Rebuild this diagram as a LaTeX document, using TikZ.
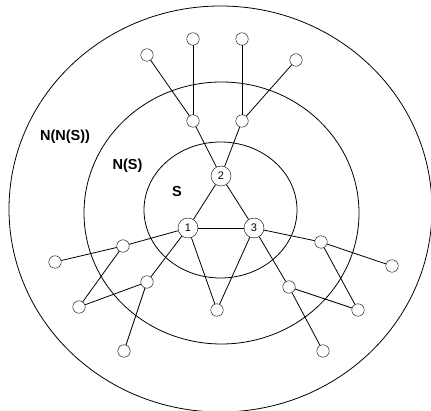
\documentclass[tikz,border=0pt]{standalone}
\usepackage{fontspec}
\setmainfont{Liberation Sans}
\usepackage{tikz}
\usetikzlibrary{positioning}
\tikzstyle{seed} = [circle, draw, fill=white, minimum size=20pt, inner sep=0pt, font=\fontsize{11}{11}\selectfont]
\tikzstyle{vertex} = [circle, draw, fill=white, minimum size=12.5pt, inner sep=0pt]
\tikzstyle{edge} = [line width=0.8pt]
\tikzstyle{region} = [line width=0.8pt]
\tikzstyle{setlabel} = [font=\fontsize{14.5}{14.5}\selectfont\bfseries]

\begin{document}
\begin{tikzpicture}[x=1pt, y=-1pt]
    \useasboundingbox (0,0) rectangle (431,411);
    % the three regions
    \draw[region] (220.5,209) ellipse [x radius=211.5, y radius=203];
    \draw[region] (221.5,213) ellipse [x radius=137.5, y radius=131];
    \draw[region] (220.5,210) ellipse [x radius=76.5, y radius=68];
    \node[setlabel] (nns) at (65,137) {N(N(S))};
    \node[setlabel] (ns) at (127.5,166) {N(S)};
    \node[setlabel] (s) at (177,192) {S};

    % vertices
    \node[vertex] (a) at (193,121) {};
    \node[vertex] (b) at (242,121) {};
    \node[vertex] (a1) at (147,55) {};
    \node[vertex] (a2) at (193,39) {};
    \node[vertex] (b1) at (242,39) {};
    \node[vertex] (b2) at (296,60) {};
    \node[vertex] (c) at (123,246) {};
    \node[vertex] (d) at (147,282) {};
    \node[vertex] (c1) at (55,262) {};
    \node[vertex] (cd) at (79,307) {};
    \node[vertex] (d1) at (124,351) {};
    \node[vertex] (m) at (217,310) {};
    \node[vertex] (e) at (321,242) {};
    \node[vertex] (f) at (289,287) {};
    \node[vertex] (e1) at (392,266) {};
    \node[vertex] (ef) at (358,310) {};
    \node[vertex] (f1) at (323,351) {};
    \node[seed] (v2) at (221,176) {2};
    \node[seed] (v1) at (188,228) {1};
    \node[seed] (v3) at (254,228) {3};

    \draw[edge] (v1) -- (v2);
    \draw[edge] (v2) -- (v3);
    \draw[edge] (v1) -- (v3);
    \draw[edge] (v2) -- (a);
    \draw[edge] (v2) -- (b);
    \draw[edge] (a) -- (a1);
    \draw[edge] (a) -- (a2);
    \draw[edge] (b) -- (b1);
    \draw[edge] (b) -- (b2);
    \draw[edge] (v1) -- (c);
    \draw[edge] (v1) -- (d);
    \draw[edge] (c) -- (c1);
    \draw[edge] (c) -- (cd);
    \draw[edge] (d) -- (cd);
    \draw[edge] (d) -- (d1);
    \draw[edge] (v1) -- (m);
    \draw[edge] (v3) -- (m);
    \draw[edge] (v3) -- (e);
    \draw[edge] (v3) -- (f);
    \draw[edge] (e) -- (e1);
    \draw[edge] (e) -- (ef);
    \draw[edge] (f) -- (ef);
    \draw[edge] (f) -- (f1);
\end{tikzpicture}
\end{document}
